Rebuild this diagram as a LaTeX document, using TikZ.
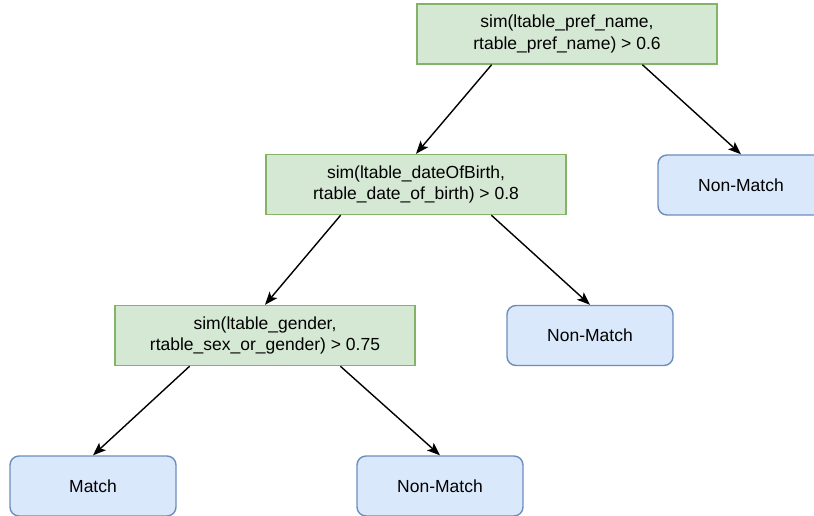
\documentclass[tikz,border=0pt]{standalone}
\usepackage{fontspec}
\setmainfont{Liberation Sans}
\usetikzlibrary{arrows.meta,calc}
\definecolor{testfill}{HTML}{D5E8D4}
\definecolor{testline}{HTML}{82B366}
\definecolor{leaffill}{HTML}{DAE8FC}
\definecolor{leafline}{HTML}{6C8EBF}
\tikzset{
  test/.style={draw=testline, fill=testfill, line width=1.4pt,
    minimum width=300pt, minimum height=60pt, inner sep=0pt,
    align=center, font=\fontsize{17.5}{21.5}\selectfont},
  leaf/.style={draw=leafline, fill=leaffill, line width=1.4pt,
    rounded corners=9pt, minimum width=166pt, minimum height=60pt,
    inner sep=0pt, align=center, font=\fontsize{17.5}{21.5}\selectfont},
  arr/.style={line width=1.4pt, -{Stealth[length=13pt,width=10pt,inset=3pt]}}
}
\begin{document}
\begin{tikzpicture}[x=1pt,y=-1pt]
\useasboundingbox (0,0) rectangle (814,516);
\clip (0,0) rectangle (814,516);
% decision nodes
\node[test] (t1) at (567,34) {sim(ltable\_pref\_name,\\rtable\_pref\_name) > 0.6};
\node[test] (t2) at (416,184.5) {sim(ltable\_dateOfBirth,\\rtable\_date\_of\_birth) > 0.8};
\node[test] (t3) at (265,335.5) {sim(ltable\_gender,\\rtable\_sex\_or\_gender) > 0.75};
% leaves
\node[leaf] (l1) at (741,185) {Non-Match};
\node[leaf] (l2) at (590,335.5) {Non-Match};
\node[leaf] (l3) at (93,486) {Match};
\node[leaf] (l4) at (440,486) {Non-Match};
% branches
\draw[arr] ($(t1.south west)!0.25!(t1.south east)$) -- (t2.north);
\draw[arr] ($(t1.south west)!0.75!(t1.south east)$) -- (l1.north);
\draw[arr] ($(t2.south west)!0.25!(t2.south east)$) -- (t3.north);
\draw[arr] ($(t2.south west)!0.75!(t2.south east)$) -- (l2.north);
\draw[arr] ($(t3.south west)!0.25!(t3.south east)$) -- (l3.north);
\draw[arr] ($(t3.south west)!0.75!(t3.south east)$) -- (l4.north);
\end{tikzpicture}
\end{document}
